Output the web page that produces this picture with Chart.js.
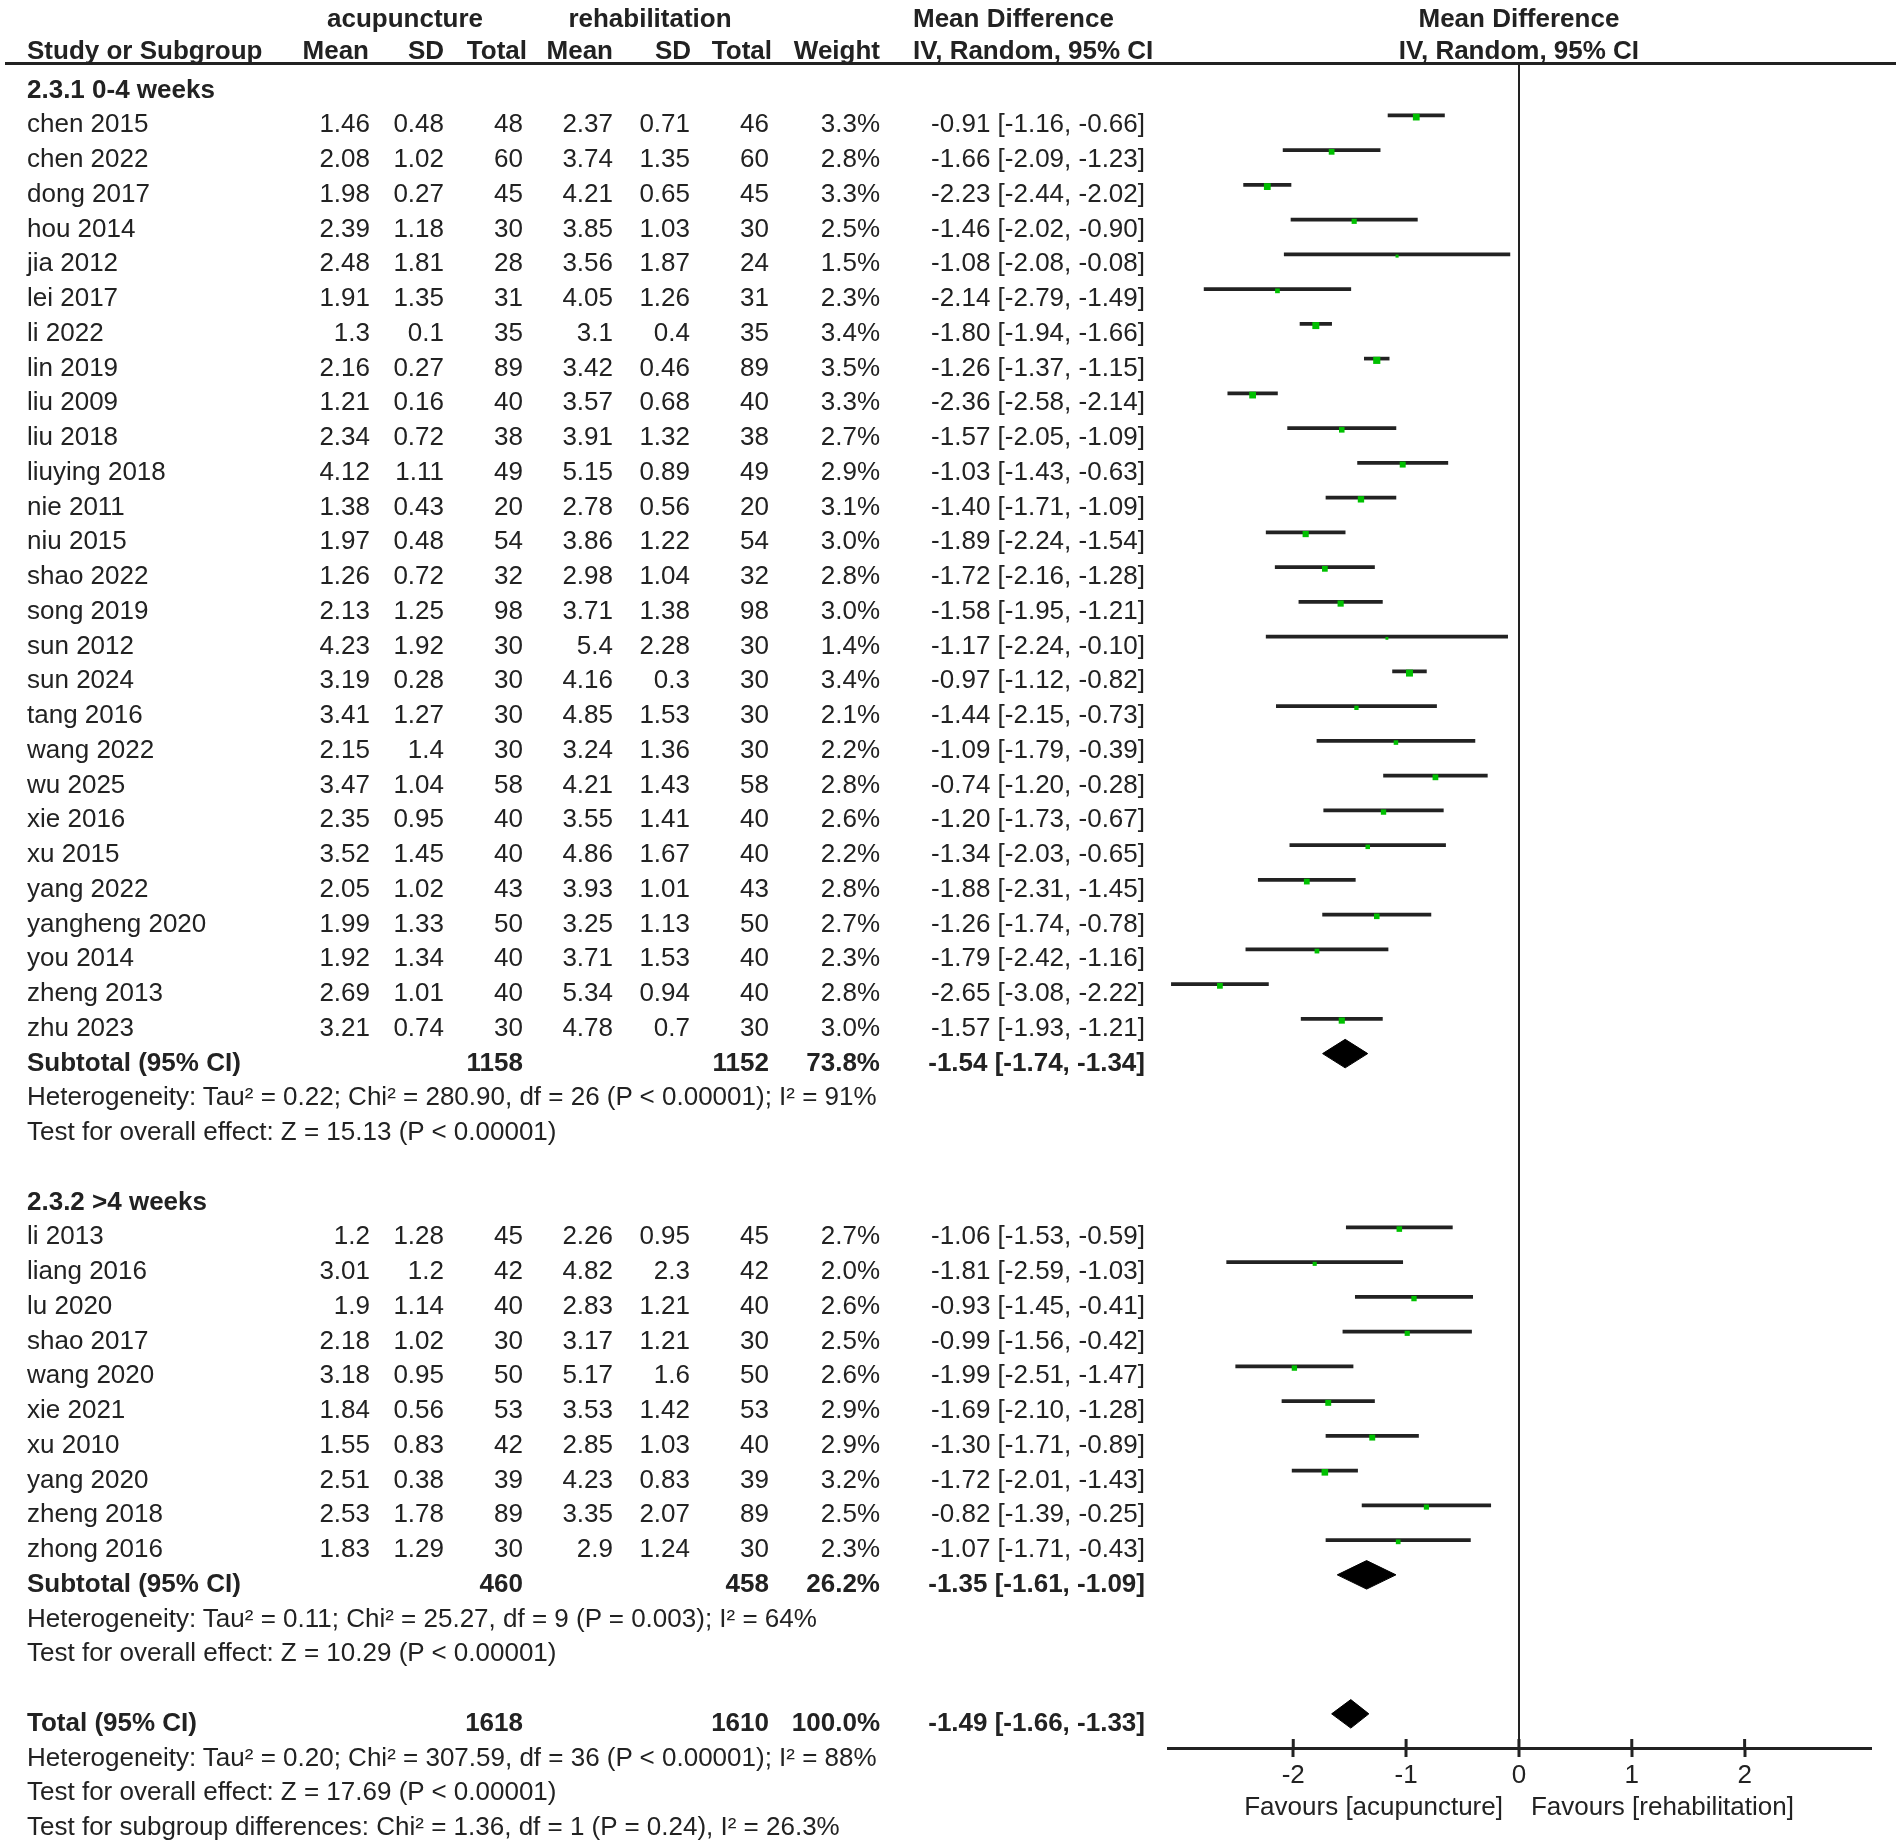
<!DOCTYPE html>
<html>
<head>
<meta charset="utf-8">
<script src="https://cdn.jsdelivr.net/npm/chart.js@4.4.1/dist/chart.umd.min.js"></script>
<style>
  body { margin: 0; background: #fff; }
  #wrap { position: relative; width: 1901px; height: 1842px; overflow: hidden; }
  #plot { position: absolute; left: 0; top: 0; }
  #txt { position: absolute; left: 0; top: 0; width: 1901px; height: 1842px; pointer-events: none; }
  .t { position: absolute; white-space: pre; font-family: "Liberation Sans", Arial, sans-serif; font-size: 26px; line-height: 30px; color: #222; }
  .b { font-weight: bold; }
  #hline { position: absolute; left: 5px; top: 62px; width: 1891px; border-top: 3px solid #222; }
</style>
</head>
<body>
<div id="wrap">
  <canvas id="plot" width="1901" height="1842"></canvas>
  <div id="hline"></div>
  <div id="txt"></div>
</div>
<script>
// 2.3.1 0-4 weeks
const names1 = ["chen 2015","chen 2022","dong 2017","hou 2014","jia 2012","lei 2017","li 2022","lin 2019","liu 2009","liu 2018","liuying 2018","nie 2011","niu 2015","shao 2022","song 2019","sun 2012","sun 2024","tang 2016","wang 2022","wu 2025","xie 2016","xu 2015","yang 2022","yangheng 2020","you 2014","zheng 2013","zhu 2023"];
const acuMean1 = [1.46,2.08,1.98,2.39,2.48,1.91,1.3,2.16,1.21,2.34,4.12,1.38,1.97,1.26,2.13,4.23,3.19,3.41,2.15,3.47,2.35,3.52,2.05,1.99,1.92,2.69,3.21];
const acuSD1 = [0.48,1.02,0.27,1.18,1.81,1.35,0.1,0.27,0.16,0.72,1.11,0.43,0.48,0.72,1.25,1.92,0.28,1.27,1.4,1.04,0.95,1.45,1.02,1.33,1.34,1.01,0.74];
const acuN1 = [48,60,45,30,28,31,35,89,40,38,49,20,54,32,98,30,30,30,30,58,40,40,43,50,40,40,30];
const rehMean1 = [2.37,3.74,4.21,3.85,3.56,4.05,3.1,3.42,3.57,3.91,5.15,2.78,3.86,2.98,3.71,5.4,4.16,4.85,3.24,4.21,3.55,4.86,3.93,3.25,3.71,5.34,4.78];
const rehSD1 = [0.71,1.35,0.65,1.03,1.87,1.26,0.4,0.46,0.68,1.32,0.89,0.56,1.22,1.04,1.38,2.28,0.3,1.53,1.36,1.43,1.41,1.67,1.01,1.13,1.53,0.94,0.7];
const rehN1 = [46,60,45,30,24,31,35,89,40,38,49,20,54,32,98,30,30,30,30,58,40,40,43,50,40,40,30];
const weight1 = [3.3,2.8,3.3,2.5,1.5,2.3,3.4,3.5,3.3,2.7,2.9,3.1,3.0,2.8,3.0,1.4,3.4,2.1,2.2,2.8,2.6,2.2,2.8,2.7,2.3,2.8,3.0];
const md1 = [-0.91,-1.66,-2.23,-1.46,-1.08,-2.14,-1.80,-1.26,-2.36,-1.57,-1.03,-1.40,-1.89,-1.72,-1.58,-1.17,-0.97,-1.44,-1.09,-0.74,-1.20,-1.34,-1.88,-1.26,-1.79,-2.65,-1.57];
const lo1 = [-1.16,-2.09,-2.44,-2.02,-2.08,-2.79,-1.94,-1.37,-2.58,-2.05,-1.43,-1.71,-2.24,-2.16,-1.95,-2.24,-1.12,-2.15,-1.79,-1.20,-1.73,-2.03,-2.31,-1.74,-2.42,-3.08,-1.93];
const hi1 = [-0.66,-1.23,-2.02,-0.90,-0.08,-1.49,-1.66,-1.15,-2.14,-1.09,-0.63,-1.09,-1.54,-1.28,-1.21,-0.10,-0.82,-0.73,-0.39,-0.28,-0.67,-0.65,-1.45,-0.78,-1.16,-2.22,-1.21];

// 2.3.2 >4 weeks
const names2 = ["li 2013","liang 2016","lu 2020","shao 2017","wang 2020","xie 2021","xu 2010","yang 2020","zheng 2018","zhong 2016"];
const acuMean2 = [1.2,3.01,1.9,2.18,3.18,1.84,1.55,2.51,2.53,1.83];
const acuSD2 = [1.28,1.2,1.14,1.02,0.95,0.56,0.83,0.38,1.78,1.29];
const acuN2 = [45,42,40,30,50,53,42,39,89,30];
const rehMean2 = [2.26,4.82,2.83,3.17,5.17,3.53,2.85,4.23,3.35,2.9];
const rehSD2 = [0.95,2.3,1.21,1.21,1.6,1.42,1.03,0.83,2.07,1.24];
const rehN2 = [45,42,40,30,50,53,40,39,89,30];
const weight2 = [2.7,2.0,2.6,2.5,2.6,2.9,2.9,3.2,2.5,2.3];
const md2 = [-1.06,-1.81,-0.93,-0.99,-1.99,-1.69,-1.30,-1.72,-0.82,-1.07];
const lo2 = [-1.53,-2.59,-1.45,-1.56,-2.51,-2.10,-1.71,-2.01,-1.39,-1.71];
const hi2 = [-0.59,-1.03,-0.41,-0.42,-1.47,-1.28,-0.89,-1.43,-0.25,-0.43];

// pooled estimates: [subtotal 1, subtotal 2, total]
const poolLabels = ["Subtotal (95% CI)","Subtotal (95% CI)","Total (95% CI)"];
const poolAcuN = [1158,460,1618];
const poolRehN = [1152,458,1610];
const poolWeight = [73.8,26.2,100.0];
const poolMd = [-1.54,-1.35,-1.49];
const poolLo = [-1.74,-1.61,-1.66];
const poolHi = [-1.34,-1.09,-1.33];

const groupTitles = ["2.3.1 0-4 weeks","2.3.2 >4 weeks"];
const hetText = [
  "Heterogeneity: Tau\u00b2 = 0.22; Chi\u00b2 = 280.90, df = 26 (P < 0.00001); I\u00b2 = 91%",
  "Heterogeneity: Tau\u00b2 = 0.11; Chi\u00b2 = 25.27, df = 9 (P = 0.003); I\u00b2 = 64%",
  "Heterogeneity: Tau\u00b2 = 0.20; Chi\u00b2 = 307.59, df = 36 (P < 0.00001); I\u00b2 = 88%"
];
const effectText = [
  "Test for overall effect: Z = 15.13 (P < 0.00001)",
  "Test for overall effect: Z = 10.29 (P < 0.00001)",
  "Test for overall effect: Z = 17.69 (P < 0.00001)"
];
const subgroupText = "Test for subgroup differences: Chi\u00b2 = 1.36, df = 1 (P = 0.24), I\u00b2 = 26.3%";
const xTicks = [-2,-1,0,1,2];
const favours = ["Favours [acupuncture]","Favours [rehabilitation]"];

// row layout (row units, 1 row = 34.75px)
const ROW = 34.75;
const markShift = -0.22; // marks sit a bit above text centre
const rows1 = names1.map((n, i) => i);
const rows2 = names2.map((n, i) => 32 + i);
const poolRows = [27, 42, 46];

function fmt(v) { return v.toFixed(2); }
function ciStr(m, l, h) { return fmt(m) + " [" + fmt(l) + ", " + fmt(h) + "]"; }

// CI whiskers
var ciData = [];
var pointData = [];
var pointSize = [];
names1.forEach((n, i) => {
  ciData.push({ y: rows1[i] + markShift, x: [lo1[i], hi1[i]] });
  pointData.push({ x: md1[i], y: rows1[i] + markShift + 0.05 });
  pointSize.push(weight1[i] * 1.45);
});
names2.forEach((n, i) => {
  ciData.push({ y: rows2[i] + markShift, x: [lo2[i], hi2[i]] });
  pointData.push({ x: md2[i], y: rows2[i] + markShift + 0.05 });
  pointSize.push(weight2[i] * 1.45);
});

// diamonds: upper and lower halves, filled between
var datasets = [
  { type: 'bar', indexAxis: 'y', data: ciData, backgroundColor: '#222', barThickness: 3, borderWidth: 0, order: 2 },
  { type: 'scatter', data: pointData, pointStyle: 'rect', pointRadius: pointSize, backgroundColor: '#00c000', borderWidth: 0, order: 1 }
];
const halfH = 0.41;
poolMd.forEach((m, k) => {
  var yc = poolRows[k] + markShift;
  datasets.push({ type: 'line', data: [{x: poolLo[k], y: yc}, {x: m, y: yc - halfH}, {x: poolHi[k], y: yc}],
    borderColor: '#000', borderWidth: 1, pointRadius: 0, backgroundColor: '#000', fill: '+1', tension: 0, order: 0 });
  datasets.push({ type: 'line', data: [{x: poolLo[k], y: yc}, {x: m, y: yc + halfH}, {x: poolHi[k], y: yc}],
    borderColor: '#000', borderWidth: 1, pointRadius: 0, backgroundColor: '#000', fill: false, tension: 0, order: 0 });
});

// ticks crossing the axis line upward as well
const upTicks = {
  id: 'upTicks',
  afterDraw(chart) {
    const s = chart.scales.x, ctx = chart.ctx;
    ctx.save();
    ctx.strokeStyle = '#222';
    ctx.lineWidth = 3;
    s.ticks.forEach(t => {
      const px = s.getPixelForValue(t.value);
      ctx.beginPath();
      ctx.moveTo(px, s.top - 9);
      ctx.lineTo(px, s.top);
      ctx.stroke();
    });
    ctx.restore();
  }
};

const yMin = (63 - 123) / ROW;
const yMax = yMin + (1748 - 63) / ROW;

var myChart = new Chart(document.getElementById('plot'), {
  type: 'scatter',
  data: { datasets: datasets },
  options: {
    responsive: false,
    animation: false,
    devicePixelRatio: 1,
    events: [],
    layout: { padding: { left: 1168, right: 30, top: 63, bottom: 34 } },
    plugins: { legend: { display: false }, tooltip: { enabled: false } },
    scales: {
      x: {
        type: 'linear', min: -3.11, max: 3.12, offset: false,
        afterBuildTicks: (s) => { s.ticks = xTicks.map(v => ({ value: v })); },
        afterFit: (s) => { s.height = 60; },
        border: { display: true, color: '#222', width: 3 },
        grid: {
          offset: false,
          color: (c) => (c.tick && c.tick.value === 0) ? '#222' : 'rgba(0,0,0,0)',
          lineWidth: 2, drawTicks: true, tickLength: 9, tickColor: '#222', tickWidth: 3
        },
        ticks: { color: '#222', padding: 3, font: { family: '"Liberation Sans", Arial, sans-serif', size: 26 } }
      },
      y: { type: 'linear', reverse: true, min: yMin, max: yMax, offset: false, grace: 0, display: false, grid: { offset: false } }
    }
  },
  plugins: [upTicks]
});

// ---- text table, placed with the chart's y scale ----
const txt = document.getElementById('txt');
const ys = myChart.scales.y, xs = myChart.scales.x;
function put(str, x, row, align, bold) {
  var d = document.createElement('div');
  d.className = 't' + (bold ? ' b' : '');
  d.textContent = str;
  var cy = ys.getPixelForValue(row);
  d.style.top = (cy - 14.7) + 'px';
  if (align === 'right') d.style.right = (1901 - x) + 'px';
  else if (align === 'center') { d.style.left = x + 'px'; d.style.transform = 'translateX(-50%)'; }
  else d.style.left = x + 'px';
  txt.appendChild(d);
}

const zeroPx = xs.getPixelForValue(0);
// header
put("acupuncture", 405, -3.04, 'center', true);
put("rehabilitation", 650, -3.04, 'center', true);
put("Mean Difference", 913, -3.04, 'left', true);
put("Mean Difference", zeroPx, -3.04, 'center', true);
put("Study or Subgroup", 27, -2.1, 'left', true);
put("Mean", 369, -2.1, 'right', true);
put("SD", 444, -2.1, 'right', true);
put("Total", 527, -2.1, 'right', true);
put("Mean", 613, -2.1, 'right', true);
put("SD", 691, -2.1, 'right', true);
put("Total", 772, -2.1, 'right', true);
put("Weight", 880, -2.1, 'right', true);
put("IV, Random, 95% CI", 913, -2.1, 'left', true);
put("IV, Random, 95% CI", zeroPx, -2.1, 'center', true);

function studyRow(r, n, am, asd, an, rm, rsd, rn, w, m, l, h) {
  put(n, 27, r, 'left');
  put(String(am), 370, r, 'right');
  put(String(asd), 444, r, 'right');
  put(String(an), 523, r, 'right');
  put(String(rm), 613, r, 'right');
  put(String(rsd), 690, r, 'right');
  put(String(rn), 769, r, 'right');
  put(w.toFixed(1) + "%", 880, r, 'right');
  put(ciStr(m, l, h), 1145, r, 'right');
}
function poolRow(k) {
  var r = poolRows[k];
  put(poolLabels[k], 27, r, 'left', true);
  put(String(poolAcuN[k]), 523, r, 'right', true);
  put(String(poolRehN[k]), 769, r, 'right', true);
  put(poolWeight[k].toFixed(1) + "%", 880, r, 'right', true);
  put(ciStr(poolMd[k], poolLo[k], poolHi[k]), 1145, r, 'right', true);
  put(hetText[k], 27, r + 1, 'left');
  put(effectText[k], 27, r + 2, 'left');
}

put(groupTitles[0], 27, -1, 'left', true);
names1.forEach((n, i) => studyRow(rows1[i], n, acuMean1[i], acuSD1[i], acuN1[i], rehMean1[i], rehSD1[i], rehN1[i], weight1[i], md1[i], lo1[i], hi1[i]));
poolRow(0);
put(groupTitles[1], 27, 31, 'left', true);
names2.forEach((n, i) => studyRow(rows2[i], n, acuMean2[i], acuSD2[i], acuN2[i], rehMean2[i], rehSD2[i], rehN2[i], weight2[i], md2[i], lo2[i], hi2[i]));
poolRow(1);
poolRow(2);
put(subgroupText, 27, 49, 'left');

// axis captions under the ticks
var favTop = 1806 - 14.7;
var f1 = document.createElement('div');
f1.className = 't'; f1.textContent = favours[0];
f1.style.top = favTop + 'px'; f1.style.right = (1901 - (zeroPx - 16)) + 'px';
txt.appendChild(f1);
var f2 = document.createElement('div');
f2.className = 't'; f2.textContent = favours[1];
f2.style.top = favTop + 'px'; f2.style.left = (zeroPx + 12) + 'px';
txt.appendChild(f2);
</script>
</body>
</html>
